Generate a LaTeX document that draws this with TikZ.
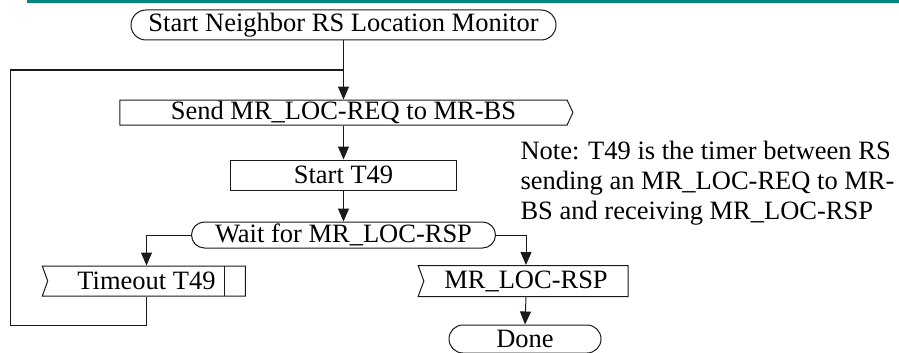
\documentclass[tikz,border=0pt]{standalone}
\usepackage{fontspec}
\setmainfont{Liberation Serif}
\usetikzlibrary{arrows.meta,shapes.misc,shapes.symbols}
\definecolor{ink}{HTML}{1A1A1A}
\definecolor{rule}{HTML}{00857F}

\begin{document}
\begin{tikzpicture}[x=1pt,y=-1pt,font=\fontsize{26.5}{30}\selectfont,line width=1pt,
  term/.style={draw=ink,rounded rectangle,inner sep=0pt},
  task/.style={draw=ink,rectangle,inner sep=0pt},
  sendbox/.style={draw=ink,signal,signal to=east,signal from=nowhere,signal pointer angle=130,inner sep=0pt},
  recvbox/.style={draw=ink,signal,signal to=nowhere,signal from=west,signal pointer angle=140,inner sep=0pt},
  flow/.style={draw=ink,-{Triangle[width=11pt,length=13pt]}}]
  \useasboundingbox (0,0) rectangle (899,353);

  % cut-off caption rule at the top edge
  \draw[rule,line width=3pt] (27,2) -- (899,2);

  % main column of the monitor procedure
  \node[term,minimum width=425,minimum height=30] (start) at (343.5,25) {Start Neighbor RS Location Monitor};
  \node[sendbox,minimum width=453,minimum height=25] (send) at (343.5,112.5) {Send MR\_LOC-REQ to MR-BS};
  \node[task,minimum width=226,minimum height=30] (t49) at (343.5,175) {Start T49};
  \node[term,minimum width=304,minimum height=26] (wait) at (343.5,235) {Wait for MR\_LOC-RSP};

  % the two inputs the wait state reacts to
  \node[recvbox,minimum width=203,minimum height=30] (timeout) at (146.5,281) {Timeout T49};
  \draw[ink] ([xshift=-21pt]timeout.north east) -- ([xshift=-21pt]timeout.south east);
  \node[recvbox,minimum width=210,minimum height=31] (rsp) at (526,281) {MR\_LOC-RSP};
  \node[term,minimum width=152,minimum height=28] (done) at (525,339) {Done};

  \node[anchor=north west,align=left,inner sep=0pt] (note) at (520,141)
    {Note: T49 is the timer between RS\\sending an MR\_LOC-REQ to MR-\\BS and receiving MR\_LOC-RSP};

  % connectors
  \coordinate (merge) at (343.5,70);
  \coordinate (loopbl) at (10,325);
  \foreach \a/\b in {start/send,send/t49,t49/wait,rsp/done} {
    \draw[flow] (\a.south) -- (\b.north);
  }
  \draw[flow] (wait.west) -| (timeout.north);
  \draw[flow] (wait.east) -| (rsp.north);
  % timeout sends the RS back to resend the request
  \draw[ink] (timeout.south) |- (loopbl) |- (merge);
\end{tikzpicture}
\end{document}
